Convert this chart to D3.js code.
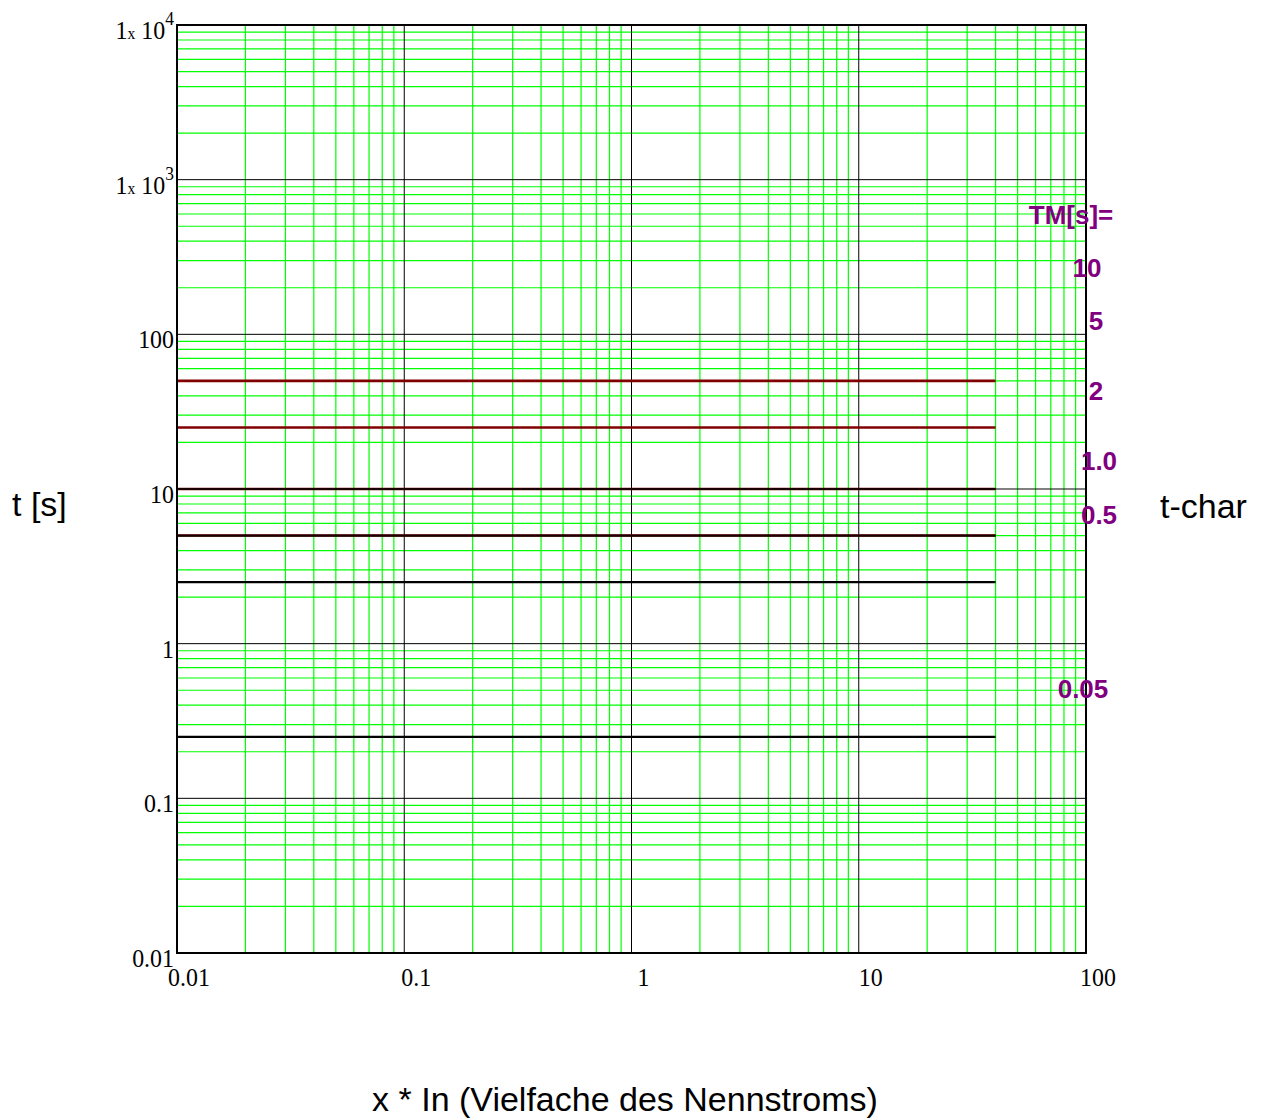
<!DOCTYPE html>
<html>
<head>
<meta charset="utf-8">
<script src="https://cdn.jsdelivr.net/npm/d3@7"></script>
<style>
  html, body { margin: 0; padding: 0; background: #fff; }
  svg { display: block; }
</style>
</head>
<body>
<svg id="chart" width="1265" height="1120"></svg>
<script>
// Time-multiplier settings of the relay and the resulting characteristic times t = 5 * TM
const tmLabels = ["10", "5", "2", "1.0", "0.5", "0.05"];
const tmValues = [10, 5, 2, 1, 0.5, 0.05];
// characteristic trip times (s), red trace and black trace
const tRed = [50, 25, 10, 5];
const tBlack = [10, 5, 2.5, 0.25];
// current range of the characteristic (multiples of In)
const xStart = 0.01;
const xEnd = 40;
// axis decades
const xTicks = [0.01, 0.1, 1, 10, 100];
const xTickLabels = ["0.01", "0.1", "1", "10", "100"];
const yTicks = [0.01, 0.1, 1, 10, 100, 1000, 10000];
const yTickLabels = ["0.01", "0.1", "1", "10", "100", "1x10^3", "1x10^4"];
// time value beside which each TM label sits
const tmLabelT = [270, 122, 43, 15.2, 6.8, 0.51];

const svg = d3.select("#chart");
const L = 177, R = 1086, T = 25, B = 953;

const x = d3.scaleLog().domain([0.01, 100]).range([L, R]);
const y = d3.scaleLog().domain([0.01, 10000]).range([B, T]);

// minor grid values 2..9 per decade
function minors(lo, hi) {
  const out = [];
  for (let e = Math.log10(lo); e < Math.log10(hi); e++) {
    for (let i = 2; i <= 9; i++) out.push(i * Math.pow(10, e));
  }
  return out;
}

const grid = svg.append("g");
grid.selectAll("line.vx").data(minors(0.01, 100)).join("line")
  .attr("x1", d => x(d)).attr("x2", d => x(d))
  .attr("y1", T).attr("y2", B)
  .attr("stroke", "#00ff00").attr("stroke-width", 1.2);
grid.selectAll("line.hy").data(minors(0.01, 10000)).join("line")
  .attr("y1", d => y(d)).attr("y2", d => y(d))
  .attr("x1", L).attr("x2", R)
  .attr("stroke", "#00ff00").attr("stroke-width", 1.2);

// major decade lines
grid.selectAll("line.mx").data(xTicks.slice(1, -1)).join("line")
  .attr("x1", d => x(d)).attr("x2", d => x(d))
  .attr("y1", T).attr("y2", B)
  .attr("stroke", "#000").attr("stroke-width", 1);
grid.selectAll("line.my").data(yTicks.slice(1, -1)).join("line")
  .attr("y1", d => y(d)).attr("y2", d => y(d))
  .attr("x1", L).attr("x2", R)
  .attr("stroke", "#000").attr("stroke-width", 1);

// characteristic traces
const line = d3.line().x(d => x(d[0])).y(d => y(d[1]));
const traces = svg.append("g");
tRed.forEach(t => {
  traces.append("path").datum([[xStart, t], [xEnd, t]])
    .attr("d", line).attr("fill", "none")
    .attr("stroke", "#800000").attr("stroke-width", 2.6);
});
tBlack.forEach(t => {
  traces.append("path").datum([[xStart, t], [xEnd, t]])
    .attr("d", line).attr("fill", "none")
    .attr("stroke", "#000").attr("stroke-width", 2.2)
    .attr("stroke-opacity", tRed.includes(t) ? 0.8 : 1);
});

// frame
svg.append("rect").attr("x", L).attr("y", T).attr("width", R - L).attr("height", B - T)
  .attr("fill", "none").attr("stroke", "#000").attr("stroke-width", 2);

// tick labels (slightly condensed serif)
const serif = "'Liberation Serif', 'Times New Roman', serif";
const sx = 0.92;
const ylab = svg.append("g").attr("font-family", serif).attr("font-size", 26).attr("fill", "#000");
yTicks.forEach((v, i) => {
  const s = yTickLabels[i];
  const txt = ylab.append("text")
    .attr("transform", `translate(${L - 3},${y(v) + 14}) scale(${sx},1)`)
    .attr("text-anchor", "end");
  if (s.includes("^")) {
    const exp = s.split("^")[1];
    txt.append("tspan").text("1");
    txt.append("tspan").attr("font-size", 17).text("x");
    txt.append("tspan").text(" 10");
    txt.append("tspan").attr("font-size", 19).attr("dy", -14).text(exp);
  } else {
    txt.text(s);
  }
});
const xlab = svg.append("g").attr("font-family", serif).attr("font-size", 26).attr("fill", "#000");
xTicks.forEach((v, i) => {
  xlab.append("text")
    .attr("transform", `translate(${x(v) + 12},986) scale(${sx},1)`)
    .attr("text-anchor", "middle").text(xTickLabels[i]);
});

// TM labels
const sans = "'Liberation Sans', Arial, sans-serif";
const tmX = [1087, 1096, 1096, 1099, 1099, 1083];
const tm = svg.append("g").attr("font-family", sans).attr("font-weight", "bold")
  .attr("font-size", 26).attr("fill", "#800080").attr("text-anchor", "middle");
tm.append("text").attr("x", 1071).attr("y", 224).text("TM[s]=");
tmLabels.forEach((s, i) => {
  tm.append("text").attr("x", tmX[i]).attr("y", y(tmLabelT[i]) + 9).text(s);
});

// axis titles
const titles = svg.append("g").attr("font-family", sans).attr("font-size", 34).attr("fill", "#000");
titles.append("text").attr("x", 12).attr("y", 516).text("t [s]");
titles.append("text").attr("x", 1160).attr("y", 518).text("t-char");
titles.append("text").attr("x", 625).attr("y", 1111).attr("text-anchor", "middle")
  .text("x * In (Vielfache des Nennstroms)");
</script>
</body>
</html>
